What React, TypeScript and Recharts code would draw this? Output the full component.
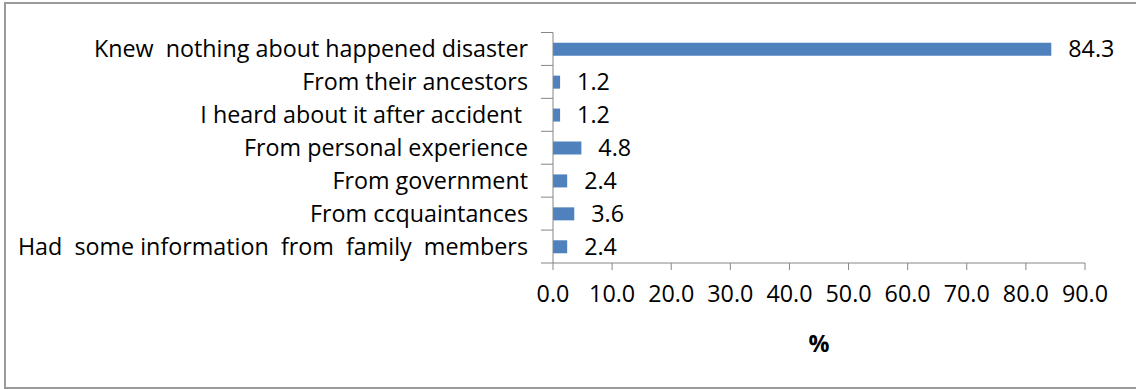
import React from 'react';
import { BarChart, Bar, XAxis, YAxis, LabelList, Label } from 'recharts';

const categories = [
  'Knew  nothing about happened disaster',
  'From their ancestors',
  'I heard about it after accident ',
  'From personal experience',
  'From government',
  'From ccquaintances',
  'Had  some information  from  family  members',
];
const percents = [84.3, 1.2, 1.2, 4.8, 2.4, 3.6, 2.4];
const xTicks = [0, 10, 20, 30, 40, 50, 60, 70, 80, 90];

const data = categories.map((name, i) => ({ name, value: percents[i] }));

const W = 1136;
const H = 389;
const TOP = 32.5;
const X_AXIS_H = 126;
const Y_AXIS_W = 553;
const FONT = '"Open Sans", Lato, sans-serif';
const FS = 23.3;
const AXIS_COLOR = '#868686';
const band = (H - TOP - X_AXIS_H) / categories.length;

const CategoryTick = (props: any) => {
  const { x, y, payload, index } = props;
  const axisX = x + 19;
  return (
    <g>
      <line x1={axisX - 6} x2={axisX + 6} y1={y - band / 2} y2={y - band / 2} stroke={AXIS_COLOR} />
      {index === categories.length - 1 && (
        <line x1={axisX - 6} x2={axisX + 6} y1={y + band / 2} y2={y + band / 2} stroke={AXIS_COLOR} />
      )}
      <text
        x={x}
        y={y}
        dy="0.35em"
        textAnchor="end"
        fill="#000"
        fontSize={FS}
        fontFamily={FONT}
        xmlSpace="preserve"
        style={{ whiteSpace: 'pre' }}
      >
        {payload.value}
      </text>
    </g>
  );
};

export default function App() {
  return (
    <div style={{ position: 'absolute', left: 0, top: 0, width: W, height: H, overflow: 'hidden', background: '#fff' }}>
      <div
        style={{
          position: 'absolute',
          left: 4,
          top: 2,
          width: W + 10,
          height: H - 6,
          border: '2px solid #9a9a9a',
        }}
      />
      <div style={{ position: 'absolute', left: 0, top: 0 }}>
        <BarChart
          width={W}
          height={H}
          data={data}
          layout="vertical"
          margin={{ top: TOP, right: 51, left: 0, bottom: 0 }}
          barCategoryGap="31%"
        >
          <XAxis
            type="number"
            domain={[0, 90]}
            ticks={xTicks}
            interval={0}
            height={X_AXIS_H}
            tickFormatter={(v: number) => v.toFixed(1)}
            axisLine={{ stroke: AXIS_COLOR }}
            tickLine={{ stroke: AXIS_COLOR }}
            tickSize={7}
            tickMargin={15}
            tick={{ fill: '#000', fontSize: FS, fontFamily: FONT }}
          >
            <Label
              value="%"
              position="insideBottom"
              offset={37}
              fill="#000"
              fontSize={FS}
              fontWeight="bold"
              fontFamily={FONT}
            />
          </XAxis>
          <YAxis
            type="category"
            dataKey="name"
            width={Y_AXIS_W}
            axisLine={{ stroke: AXIS_COLOR }}
            tickLine={false}
            tickSize={6}
            tickMargin={19}
            interval={0}
            tick={<CategoryTick />}
          />
          <Bar dataKey="value" fill="#4F81BD" isAnimationActive={false}>
            <LabelList
              dataKey="value"
              position="right"
              offset={17}
              formatter={(v: any) => Number(v).toFixed(1)}
              fill="#000"
              fontSize={FS}
              fontFamily={FONT}
            />
          </Bar>
        </BarChart>
      </div>
    </div>
  );
}
